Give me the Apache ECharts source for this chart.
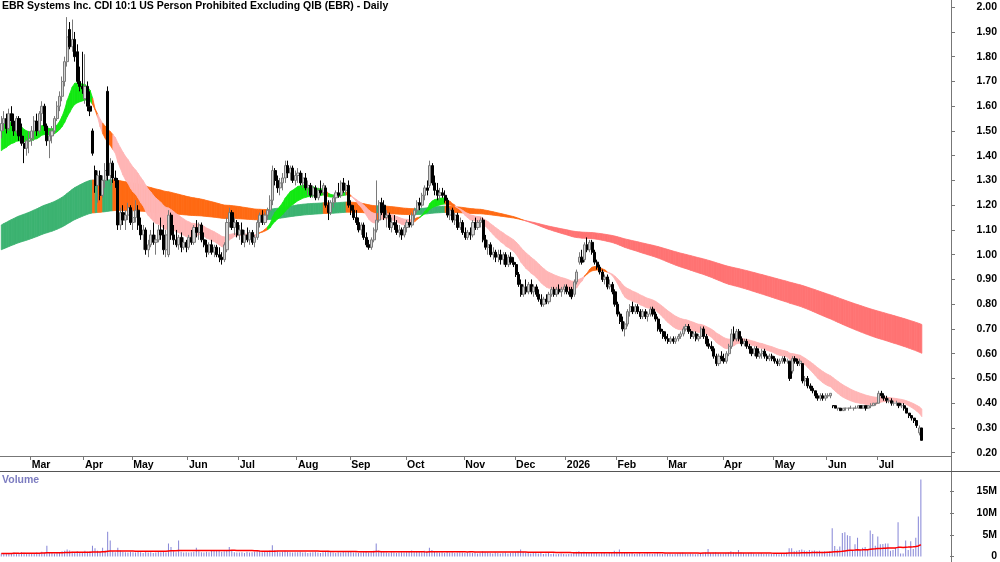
<!DOCTYPE html>
<html>
<head>
<meta charset="utf-8"/>
<title>EBR - Daily</title>
<style>body,html{margin:0;width:100%;height:100%;background:#fff}#chart{width:1000px;height:562px}</style>
<script src="https://cdn.jsdelivr.net/npm/echarts@6/dist/echarts.min.js"></script>
</head>
<body>
<div id="chart"></div>
<script>
// month labels on the date axis and the trading days shown in each month
var monthLabels = ['', 'Mar', 'Apr', 'May', 'Jun', 'Jul', 'Aug', 'Sep', 'Oct', 'Nov', 'Dec', '2026', 'Feb', 'Mar', 'Apr', 'May', 'Jun', 'Jul'];
var monthDays = [12, 21, 19, 22, 20, 23, 21, 22, 23, 20, 20, 20, 20, 22, 20, 21, 20, 18];
var padDays = 11; // empty space right of the last bar

// daily bars, cents: [open, high, low, close]
var feb25 = [[150,156,147,153],[153,158,150,155],[155,157,149,151],[151,159,150,157],[157,160,152,154],[154,157,148,150],[150,156,149,155],[155,156,146,148],[148,153,144,145],[145,148,137,143],[143,147,140,146],[146,150,141,147]];
var mar25 = [[147,152,144,150],[150,156,146,154],[154,157,148,150],[150,158,149,157],[157,162,154,160],[160,161,150,152],[152,153,144,146],[146,150,139,148],[148,152,145,150],[150,156,149,155],[155,162,154,160],[160,166,158,164],[164,172,162,170],[170,180,168,178],[178,196,176,188],[191,194,183,184],[184,195,182,187],[187,190,178,180],[182,185,169,170],[170,176,166,168],[168,182,165,167]];
var apr25 = [[163,181,161,168],[168,170,158,160],[160,166,156,158],[150,151,140,141],[134,136,125,128],[128,134,121,132],[132,134,122,124],[124,132,123,130],[130,137,127,134],[166,168,130,132],[132,139,128,137],[137,138,129,131],[131,134,127,130],[130,131,110,112],[112,119,110,117],[117,120,112,114],[114,118,110,116],[116,121,114,119],[119,120,112,113]];
var may25 = [[113,118,110,115],[115,122,113,118],[118,120,110,112],[112,115,106,108],[108,112,102,110],[110,111,100,102],[102,106,99,104],[104,110,103,108],[108,113,104,105],[105,108,100,106],[106,112,105,110],[110,115,106,108],[108,112,100,102],[102,110,99,108],[100,118,99,116],[116,117,106,108],[108,112,104,106],[106,110,103,104],[104,108,102,107],[107,109,101,103],[103,107,102,105],[105,106,101,103]];
var jun25 = [[103,108,102,107],[107,110,104,105],[105,112,104,111],[111,114,107,109],[109,113,106,112],[112,113,105,106],[106,109,103,104],[104,106,99,101],[101,105,100,104],[104,106,100,101],[101,104,99,103],[103,104,99,100],[100,103,97,99],[99,101,96,98],[98,105,97,104],[102,115,101,113],[113,119,111,117],[117,118,110,111],[111,115,108,113],[113,114,107,108]];
var jul25 = [[108,112,106,110],[110,113,104,105],[105,110,103,108],[108,111,105,106],[106,110,104,109],[109,110,104,105],[105,108,103,107],[107,114,106,113],[113,117,111,116],[116,118,112,113],[113,117,112,116],[116,119,114,118],[118,124,117,122],[122,136,120,134],[134,135,128,130],[130,132,125,127],[127,131,124,129],[129,133,126,131],[131,138,129,136],[136,138,131,133],[133,136,130,135],[135,136,129,130],[130,134,128,132]];
var aug25 = [[132,135,129,133],[133,134,128,129],[129,133,127,131],[131,133,126,127],[127,130,124,128],[128,129,123,124],[124,128,123,127],[127,128,122,123],[123,127,122,126],[126,130,124,125],[125,129,124,128],[127,128,119,120],[120,122,114,117],[117,122,116,121],[121,124,119,123],[123,126,121,125],[125,129,123,124],[124,130,123,129],[129,131,125,126],[126,129,124,128],[128,130,119,120]];
var sep25 = [[120,122,116,118],[118,120,114,115],[115,118,112,113],[113,115,109,110],[110,113,108,112],[112,113,106,107],[107,109,103,104],[104,106,102,103],[103,107,102,106],[106,111,105,110],[110,130,109,114],[114,122,113,121],[121,123,116,117],[120,122,114,115],[115,118,111,116],[116,117,110,111],[111,115,109,113],[113,116,110,112],[112,114,108,109],[109,112,107,110],[110,111,106,108],[108,112,107,111]];
var oct25 = [[111,114,109,113],[113,116,111,112],[112,117,111,116],[116,119,114,118],[118,122,117,121],[121,123,118,120],[120,125,119,124],[124,128,122,127],[127,130,124,126],[128,138,127,136],[136,137,128,129],[129,132,124,126],[126,129,122,124],[124,127,122,125],[125,127,123,124],[124,126,121,122],[122,123,115,116],[116,119,114,118],[118,119,113,114],[114,117,112,116],[116,117,110,111],[111,115,110,113],[113,114,108,109]];
var nov25 = [[109,111,106,107],[107,110,106,109],[109,111,106,108],[108,114,107,113],[113,115,110,111],[111,114,110,113],[113,115,111,114],[114,115,105,106],[106,108,102,103],[103,106,100,104],[104,105,99,100],[100,103,98,101],[101,102,97,99],[99,102,97,100],[100,102,96,98],[98,101,96,100],[100,101,95,96],[96,100,95,99],[99,101,96,97],[97,99,95,96]];
var dec25 = [[96,97,91,92],[92,93,87,88],[88,90,83,84],[84,88,83,87],[87,90,84,85],[85,89,84,88],[88,90,84,85],[85,88,83,87],[87,88,83,84],[84,86,81,82],[82,84,79,80],[80,83,79,82],[82,84,80,81],[81,85,80,84],[84,87,83,86],[86,87,83,84],[84,87,83,86],[86,88,84,85],[85,87,83,86],[86,88,84,87]];
var jan26 = [[87,88,84,85],[85,87,83,84],[86,87,82,83],[84,90,83,89],[89,94,88,93],[97,101,96,99],[99,102,96,97],[98,105,97,104],[104,107,101,102],[102,106,101,105],[105,106,100,101],[101,102,96,97],[97,98,94,95],[95,96,92,93],[93,94,89,90],[90,92,88,91],[91,92,86,87],[87,90,86,88],[88,89,84,85],[85,86,79,80]];
var feb26 = [[80,81,75,76],[76,77,72,73],[73,75,69,70],[70,73,67,72],[72,78,71,77],[77,80,75,79],[79,81,76,77],[77,80,76,79],[79,80,76,77],[77,78,74,75],[75,78,74,77],[77,78,74,75],[75,77,73,76],[76,79,75,78],[78,79,75,76],[76,77,73,74],[74,75,69,70],[70,72,68,69],[69,70,66,67],[67,69,65,66]];
var mar26 = [[66,68,64,65],[65,67,64,66],[66,67,64,65],[65,67,64,66],[66,68,65,67],[67,69,66,68],[68,71,67,70],[70,72,69,71],[71,72,68,69],[69,70,66,67],[67,69,66,68],[68,69,65,66],[66,68,65,67],[67,71,66,70],[70,71,66,67],[67,68,63,64],[64,66,62,63],[63,65,61,62],[62,63,58,59],[59,60,55,56],[56,60,55,59],[59,61,57,58]];
var apr26 = [[58,60,56,57],[57,61,56,60],[60,64,59,63],[63,70,62,68],[68,71,65,66],[66,70,65,69],[69,70,65,66],[66,67,63,64],[64,66,63,65],[65,66,62,63],[63,64,60,62],[62,63,59,60],[60,63,59,62],[62,63,58,59],[59,61,58,60],[60,62,58,61],[61,62,58,59],[59,60,57,58],[58,60,57,59],[59,60,57,58]];
var may26 = [[58,59,56,57],[57,58,55,56],[56,58,55,57],[57,59,56,58],[58,59,56,57],[57,58,56,57],[57,57,49,50],[53,59,52,58],[58,59,56,57],[57,58,55,56],[56,58,55,57],[56,56,48,49],[49,51,47,50],[50,51,46,47],[47,48,45,46],[46,47,44,45],[45,45,42,43],[43,44,41,42],[42,44,41,43],[43,44,41,42],[42,44,41,43]];
var jun26 = [[43,44,42,43],[43,44,42,44],[39,39,38,39],[39,39,38,38],[38,38,37,38],[38,38,37,37],[37,38,37,38],[38,38,37,38],[38,38,37,38],[38,39,38,38],[38,38,37,38],[38,39,38,38],[38,39,38,39],[39,39,38,38],[38,39,38,39],[39,39,37,38],[38,39,38,39],[39,40,38,39],[39,40,39,40],[40,40,39,40]];
var jul26 = [[40,45,40,44],[44,45,42,43],[43,44,41,42],[42,43,40,41],[41,42,40,41],[41,42,39,40],[40,41,39,40],[40,41,39,40],[40,40,38,39],[39,40,38,39],[39,40,37,38],[38,38,36,36],[36,36,34,35],[35,35,33,34],[34,34,32,33],[33,33,30,31],[28,31,27,30],[30,30,25,25]];

// daily volume, thousands of shares
var volFeb25 = [700,650,800,600,750,900,700,650,1000,850,700,800];
var volMar25 = [650,700,900,800,1100,900,2500,1000,800,700,900,1000,1200,1300,1600,1400,1100,1000,1200,900,1000];
var volApr25 = [1300,1100,1200,2500,1900,1300,1100,2000,1400,5700,3700,1200,1000,2000,1400,1100,1000,900,1100];
var volMay25 = [1000,900,1100,1000,800,1200,900,1000,800,900,1100,1000,1200,900,3000,2200,1200,1000,3700,1100,900,1000];
var volJun25 = [900,1000,1100,2000,1200,1000,900,1100,1000,1500,1400,1500,1300,1100,1200,1400,2200,1300,1000,900];
var volJul25 = [900,1000,800,1100,900,1000,1100,1200,1300,1000,1100,1200,1400,2600,1500,1200,1000,1100,1300,1100,1000,900,1000];
var volAug25 = [1000,1100,900,1000,800,900,1000,1100,900,800,1000,1200,1300,1000,900,800,1000,900,1100,1000,1200];
var volSep25 = [1100,900,1000,800,900,1000,1200,900,1000,1300,3000,1400,1100,1000,900,800,1000,900,800,900,1000,900];
var volOct25 = [1000,1100,1400,1000,1100,1200,1000,1300,1100,2000,1500,1200,1000,900,1000,800,1100,900,1000,800,900,1000,900];
var volNov25 = [800,900,1000,800,900,700,800,1200,1000,900,800,700,900,800,700,800,900,700,800,900];
var volDec25 = [1000,1200,1600,1100,900,800,700,800,900,700,800,600,700,800,600,700,500,600,700,600];
var volJan26 = [500,600,700,900,1100,1200,1000,1100,900,800,900,1000,800,700,800,900,700,800,1000,1300];
var volFeb26 = [1100,1600,1000,900,800,700,800,600,700,800,600,700,800,700,600,700,800,700,600,700];
var volMar26 = [600,700,500,600,700,800,900,700,600,700,600,500,600,700,800,900,1700,800,900,1000,800,700];
var volApr26 = [700,800,900,1200,1000,900,1500,1000,800,700,800,900,700,600,700,800,600,700,600,700];
var volMay26 = [600,700,500,600,700,900,1900,1900,1200,1300,1500,1600,1400,1200,1500,1300,1400,1200,1300,1100,1200];
var volJun26 = [1000,1200,6500,2400,1600,2300,5400,5600,4900,4700,1300,2800,4300,1600,2000,2200,1500,6000,5200,2500];
var volJul26 = [4600,2800,2900,3000,3000,1300,1500,2000,7900,700,700,3700,1500,3500,1700,4300,9200,17700];

// moving-average bands: periods and their values at the first bar
var shortPeriods = [15, 30];
var shortStart = [1.53, 1.42];
var longPeriods = [150, 240];
var longStart = [1.12, 1.02];
var volAvgPeriod = 60;

var rows = [].concat(feb25, mar25, apr25, may25, jun25, jul25, aug25, sep25, oct25, nov25, dec25,
  jan26, feb26, mar26, apr26, may26, jun26, jul26);
var vols = [].concat(volFeb25, volMar25, volApr25, volMay25, volJun25, volJul25, volAug25, volSep25, volOct25,
  volNov25, volDec25, volJan26, volFeb26, volMar26, volApr26, volMay26, volJun26, volJul26);

var cats = [], tickLabel = [];
var n = 0;
for (var m = 0; m < monthDays.length; m++) {
  for (var d = 0; d < monthDays[m]; d++) {
    cats.push('d' + n);
    tickLabel.push(d === 0 ? monthLabels[m] : '');
    n++;
  }
}
for (var p = 0; p < padDays; p++) { cats.push('d' + n); tickLabel.push(''); n++; }

var candles = rows.map(function (r) { return [r[0] / 100, r[3] / 100, r[2] / 100, r[1] / 100]; });
var closes = rows.map(function (r) { return r[3] / 100; });
var volData = vols.map(function (v) { return v * 1000; });

function ema(src, period, start) {
  var k = 2 / (period + 1), e = start, out = [];
  for (var i = 0; i < src.length; i++) {
    if (i > 0) e = e + k * (src[i] - e);
    out.push(e);
  }
  return out;
}
function sma(src, period) {
  var out = [], sum = 0;
  for (var i = 0; i < src.length; i++) {
    sum += src[i];
    if (i >= period) sum -= src[i - period];
    out.push(sum / Math.min(i + 1, period));
  }
  return out;
}

var sf = ema(closes, shortPeriods[0], shortStart[0]);
var ss = ema(closes, shortPeriods[1], shortStart[1]);
var lf = ema(closes, longPeriods[0], longStart[0]);
var ls = ema(closes, longPeriods[1], longStart[1]);
var volAvg = sma(volData, volAvgPeriod);

var shortCol = [], longCol = [];
for (var i = 0; i < closes.length; i++) {
  var up = closes[i] > Math.max(lf[i], ls[i]);
  shortCol.push(sf[i] > ss[i] && up ? 0 : (sf[i] < ss[i] && !up ? 2 : 1));
  longCol.push(lf[i] > ls[i] && up ? 0 : (lf[i] < ls[i] && !up ? 2 : 1));
}

function bandSeries(a, b, cols, palette, z) {
  var data = [];
  for (var i = 0; i < a.length - 1; i++) {
    data.push([i, Math.min(a[i], b[i]), Math.max(a[i], b[i]),
      Math.min(a[i + 1], b[i + 1]), Math.max(a[i + 1], b[i + 1]), cols[i + 1]]);
  }
  return {
    type: 'custom', xAxisIndex: 0, yAxisIndex: 0, z: z, silent: true, clip: true,
    encode: { x: 0, y: [1, 2, 3, 4] },
    renderItem: function (params, api) {
      var x = api.value(0);
      var c = palette[api.value(5)];
      var pts = [api.coord([x, api.value(1)]), api.coord([x, api.value(2)]),
        api.coord([x + 1, api.value(4)]), api.coord([x + 1, api.value(3)])];
      return { type: 'polygon', shape: { points: pts }, style: { fill: c, stroke: c, lineWidth: 0.8 } };
    },
    data: data
  };
}

var font = { fontFamily: 'Liberation Sans, Arial, sans-serif', fontSize: 10.5, fontWeight: 'bold', color: '#000' };
var chart = echarts.init(document.getElementById('chart'));
chart.setOption({
  animation: false,
  backgroundColor: '#fff',
  textStyle: { fontFamily: 'Liberation Sans, Arial, sans-serif' },
  title: [
    { text: 'EBR Systems Inc. CDI 10:1 US Person Prohibited Excluding QIB (EBR) - Daily', left: 2, top: 1, padding: 0, textStyle: font },
    { text: 'Volume', left: 2, top: 474.5, padding: 0, textStyle: Object.assign({}, font, { color: '#7c7cc0' }) }
  ],
  grid: [
    { left: 0, right: 48, top: 7.2, bottom: 109.3 },
    { left: 0, right: 48, top: 471.7, bottom: 3.7 }
  ],
  xAxis: [
    {
      type: 'category', gridIndex: 0, data: cats, boundaryGap: true, offset: 3.3,
      axisLine: { show: false },
      axisTick: { show: true, length: 4, interval: function (i) { return tickLabel[i] !== ''; }, lineStyle: { color: '#777' } },
      axisLabel: {
        interval: function (i) { return tickLabel[i] !== ''; },
        formatter: function (v, i) { return tickLabel[i]; },
        align: 'left', margin: 4, fontSize: 10.5, fontWeight: 'bold', color: '#000', lineHeight: 10
      },
      splitLine: { show: false }
    },
    { type: 'category', gridIndex: 1, data: cats, boundaryGap: true, show: false }
  ],
  yAxis: [
    {
      type: 'value', gridIndex: 0, position: 'right', min: 0.2, max: 2.0, interval: 0.1,
      axisLine: { show: false },
      axisTick: { show: true, length: 4, lineStyle: { color: '#777' } },
      axisLabel: { formatter: function (v) { return v.toFixed(2); }, align: 'right', margin: 46, fontSize: 10.5, fontWeight: 'bold', color: '#000' },
      splitLine: { show: false }
    },
    {
      type: 'value', gridIndex: 1, position: 'right', min: 0, max: 19.5e6, interval: 5e6,
      axisLine: { show: false },
      axisTick: { show: true, length: 4, lineStyle: { color: '#777' } },
      axisLabel: { showMaxLabel: false, formatter: function (v) { return v === 0 ? '0' : (v / 1e6) + 'M'; }, align: 'right', margin: 47, fontSize: 10.5, fontWeight: 'bold', color: '#000' },
      splitLine: { show: false }
    }
  ],
  graphic: [
    { type: 'line', silent: true, shape: { x1: 951.5, y1: 0, x2: 951.5, y2: 562 }, style: { stroke: '#777', lineWidth: 1 } },
    { type: 'line', silent: true, shape: { x1: 0, y1: 456.5, x2: 952, y2: 456.5 }, style: { stroke: '#777', lineWidth: 1 } },
    { type: 'line', silent: true, shape: { x1: 0, y1: 471.5, x2: 1000, y2: 471.5 }, style: { stroke: '#555', lineWidth: 1 } }
  ],
  series: [
    bandSeries(lf, ls, longCol, ['#3cb371', '#ff6a13', '#ff7373'], 1),
    bandSeries(sf, ss, shortCol, ['#12e812', '#ff6a13', '#ffb5b5'], 2),
    {
      type: 'candlestick', xAxisIndex: 0, yAxisIndex: 0, z: 3, barWidth: 2.6, data: candles,
      itemStyle: { color: '#d4d4d4', color0: '#000000', borderColor: '#7a7a7a', borderColor0: '#000000', borderWidth: 1 }
    },
    { type: 'bar', xAxisIndex: 1, yAxisIndex: 1, barWidth: 1, data: volData, itemStyle: { color: '#8585d6' }, silent: true },
    { type: 'line', xAxisIndex: 1, yAxisIndex: 1, data: volAvg, showSymbol: false, lineStyle: { color: '#ff0000', width: 1.5 }, silent: true, z: 3 }
  ]
});
</script>
</body>
</html>
